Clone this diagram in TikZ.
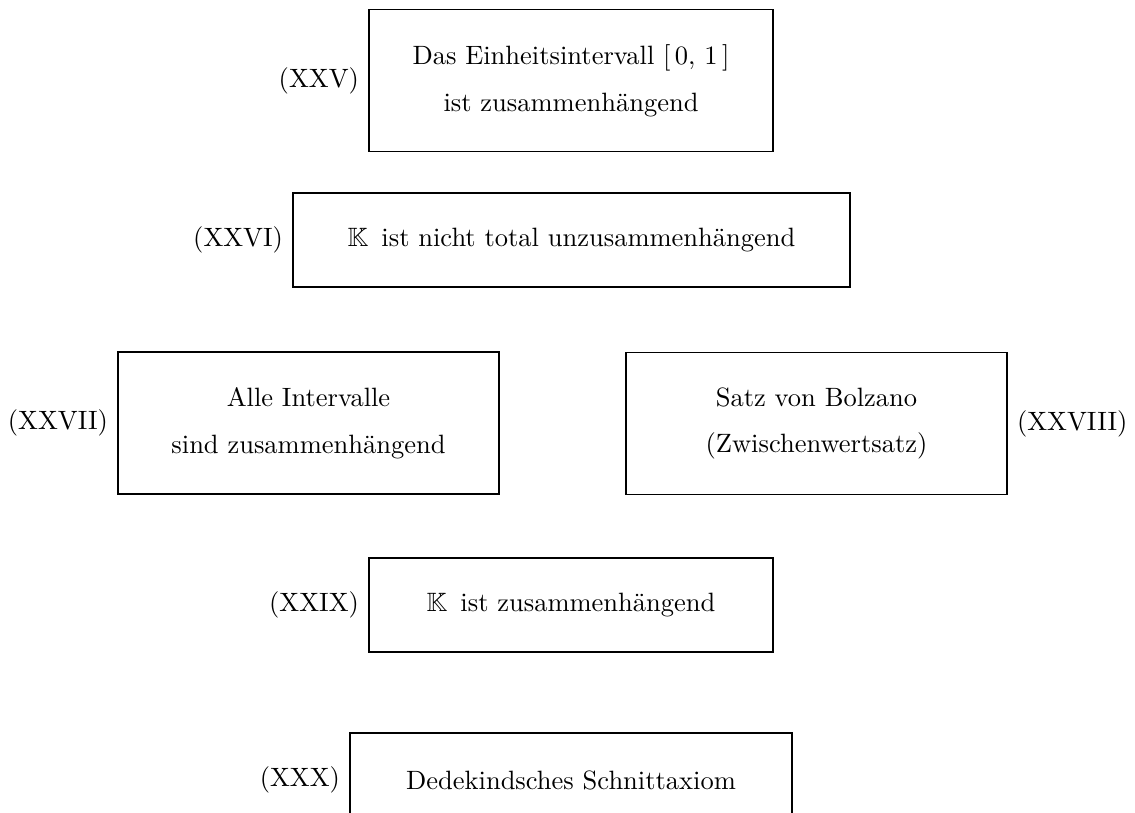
\documentclass[tikz,border=0pt]{standalone}
\usepackage{amssymb}
\begin{document}
\begin{tikzpicture}[x=0.3774pt,y=-0.3774pt,
  box/.style={draw, line width=0.5pt, align=center, inner sep=0pt},
  tall/.style={minimum height=53.5pt},
  flat/.style={minimum height=35.5pt}]
\useasboundingbox (0,0) rectangle (1135,812);
\node[box, tall, minimum width=152.5pt, label=left:{(XXV)}] (n25) at (571,80.5)
  {Das Einheitsintervall $[\,0,\,1\,]$\\[5.8pt] ist zusammenhängend};
\node[box, flat, minimum width=210.2pt, label=left:{(XXVI)}] (n26) at (571.5,240)
  {$\mathbb{K}\,$ ist nicht total unzusammenhängend};
\node[box, tall, minimum width=143.8pt, label=left:{(XXVII)}] (n27) at (308.5,423)
  {Alle Intervalle\\[5.6pt] sind zusammenhängend};
\node[box, tall, minimum width=143.8pt, label=right:{(XXVIII)}] (n28) at (816.5,423.5)
  {Satz von Bolzano\\[5.6pt] (Zwischenwertsatz)};
\node[box, flat, minimum width=152.5pt, label=left:{(XXIX)}] (n29) at (571,605)
  {$\mathbb{K}\,$ ist zusammenhängend};
\node[box, flat, minimum width=166.8pt, label=left:{(XXX)}] (n30) at (571,780)
  {Dedekindsches Schnittaxiom};
\end{tikzpicture}
\end{document}
